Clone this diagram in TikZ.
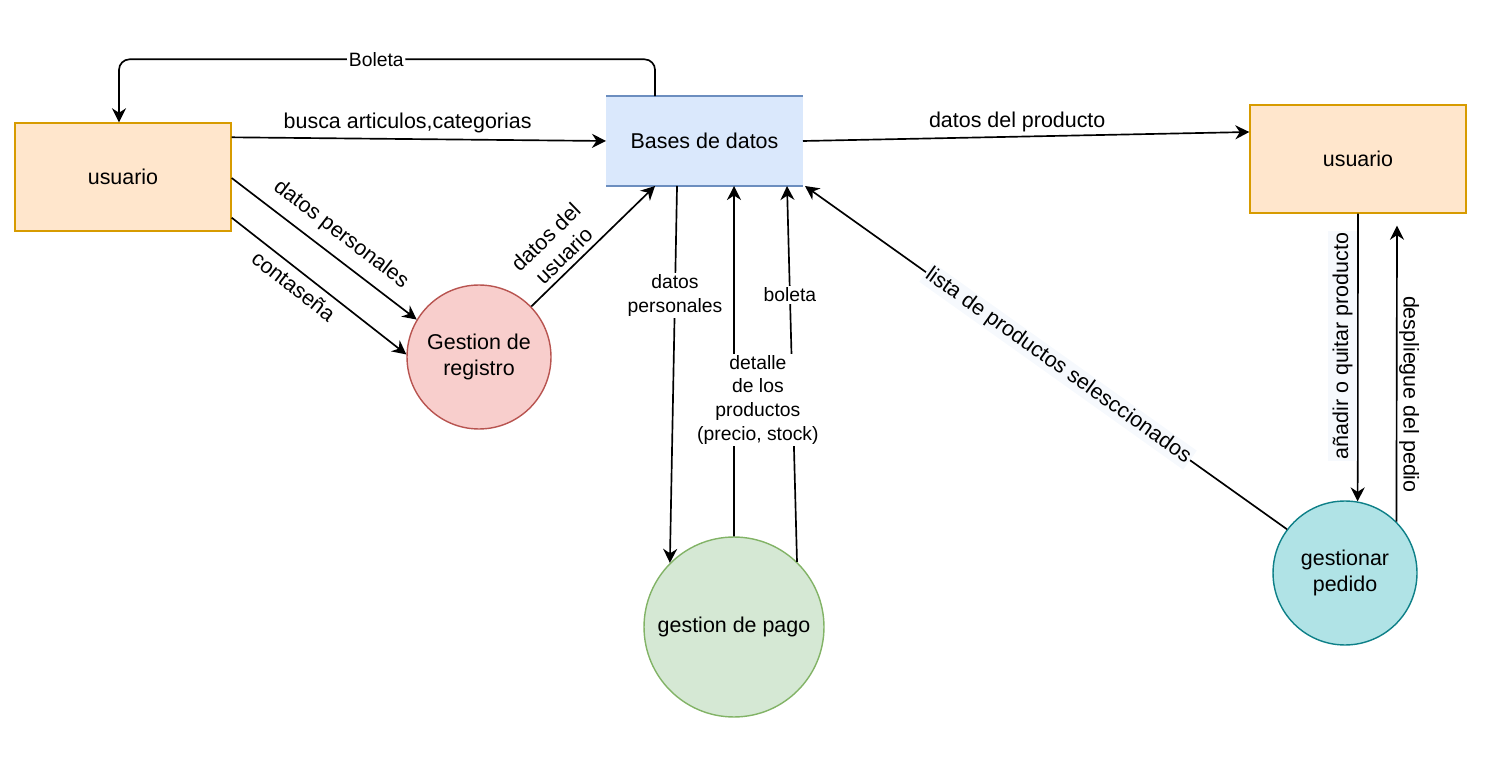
\documentclass[tikz,border=0pt]{standalone}
\usepackage{fontspec}
\setmainfont{Liberation Sans}
\usetikzlibrary{arrows.meta,positioning,calc}
\definecolor{usrfill}{RGB}{255,230,204}
\definecolor{usrline}{RGB}{215,155,0}
\definecolor{dbfill}{RGB}{218,232,252}
\definecolor{dbline}{RGB}{108,142,191}
\definecolor{regfill}{RGB}{248,206,204}
\definecolor{regline}{RGB}{184,84,80}
\definecolor{pagofill}{RGB}{213,232,212}
\definecolor{pagoline}{RGB}{130,179,102}
\definecolor{pedfill}{RGB}{176,227,230}
\definecolor{pedline}{RGB}{14,128,136}
\definecolor{lblbg}{RGB}{246,249,253}
\newcommand{\nodefont}{\fontsize{12.2}{14.7}\selectfont}
\newcommand{\edgefont}{\fontsize{11}{13.4}\selectfont}

\begin{document}
\begin{tikzpicture}[x=0.02cm,y=-0.02cm,
    >={Stealth[length=8pt,width=8pt]},
    entity/.style={draw=usrline,fill=usrfill,line width=0.8pt,minimum width=4.32cm,minimum height=2.16cm,font=\nodefont},
    store/.style={fill=dbfill,minimum width=3.94cm,minimum height=1.8cm,outer sep=0pt,font=\nodefont},
    process/.style={circle,line width=0.8pt,inner sep=0pt,align=center,font=\nodefont},
    flow/.style={->,line width=0.95pt},
    lbl/.style={fill=white,inner sep=1pt,align=center,font=\edgefont},
    lblbig/.style={inner sep=1pt,align=center,font=\nodefont}]
    \useasboundingbox (0,0) rectangle (1507,766);

    % Entities and data store
    \node[entity] (usrA) at (123,177) {usuario};
    \node[entity] (usrB) at (1358,159) {usuario};
    \node[store] (db) at (704.5,141) {Bases de datos};
    \draw[dbline,line width=0.8pt] (db.north west) -- (db.north east) (db.south west) -- (db.south east);

    % Processes
    \node[process,draw=regline,fill=regfill,minimum size=2.88cm] (reg) at (479,357) {Gestion de\\registro};
    \node[process,draw=pagoline,fill=pagofill,minimum size=3.6cm] (pago) at (734,627) {gestion de pago};
    \node[process,draw=pedline,fill=pedfill,minimum size=2.88cm] (ped) at (1345,573) {gestionar\\pedido};

    % Flows of the left user
    \draw[flow,rounded corners=6pt] ($(db.north west)+(49,0)$) |- ($(usrA.north)+(-4,-63)$)
        node[lbl,pos=0.76] {Boleta} -- ($(usrA.north)+(-4,0)$);
    \draw[flow] ($(usrA.north east)+(0,15)$) -- (db.west)
        node[lblbig,pos=0.47,above=2pt] {busca articulos,categorias};
    \draw[flow] ($(usrA.east)+(0,1)$) -- (reg.149)
        node[lblbig,pos=0.52,sloped,above=5pt] {datos personales};
    \draw[flow] ($(usrA.south east)+(0,-14)$) -- (reg.178)
        node[lblbig,pos=0.41,sloped,below=3pt] {contaseña};
    \draw[flow] (reg.44) -- ($(db.south west)+(49,0)$)
        node[lblbig,pos=0.34,sloped,above=2pt] {datos del\\usuario};

    % Flows of the payment
    \draw[flow] ($(db.south west)+(71,0)$) -- (pago.135)
        node[lbl,pos=0.29] {datos\\personales};
    \draw[flow] (pago.46) -- ($(db.south west)+(181,0)$)
        node[lbl,pos=0.71] {boleta};
    \draw[flow] (pago.north) -- ($(db.south west)+(128,0)$)
        node[lbl,pos=0.39,xshift=13.6pt] {detalle\\de los\\productos\\(precio, stock)};

    % Flows of the right user
    \draw[flow] (db.east) -- ($(usrB.west)+(0,-27)$)
        node[lblbig,pos=0.48,above=1pt] {datos del producto};
    \draw[flow] (ped.143) -- ($(db.south east)+(2,0)$)
        node[lblbig,fill=lblbg,pos=0.475,sloped] {lista de productos selesccionados};
    \draw[flow] (usrB.south) -- (ped.80)
        node[lblbig,fill=lblbg,pos=0.46,rotate=90,anchor=south,inner ysep=2.5pt] {añadir o quitar producto};
    \coordinate (retB) at ($(usrB.south)+(39,12)$);
    \draw[flow] (ped.45) -- (retB)
        node[lblbig,pos=0.43,rotate=-90,anchor=south] {despliegue del pedio};
\end{tikzpicture}
\end{document}
